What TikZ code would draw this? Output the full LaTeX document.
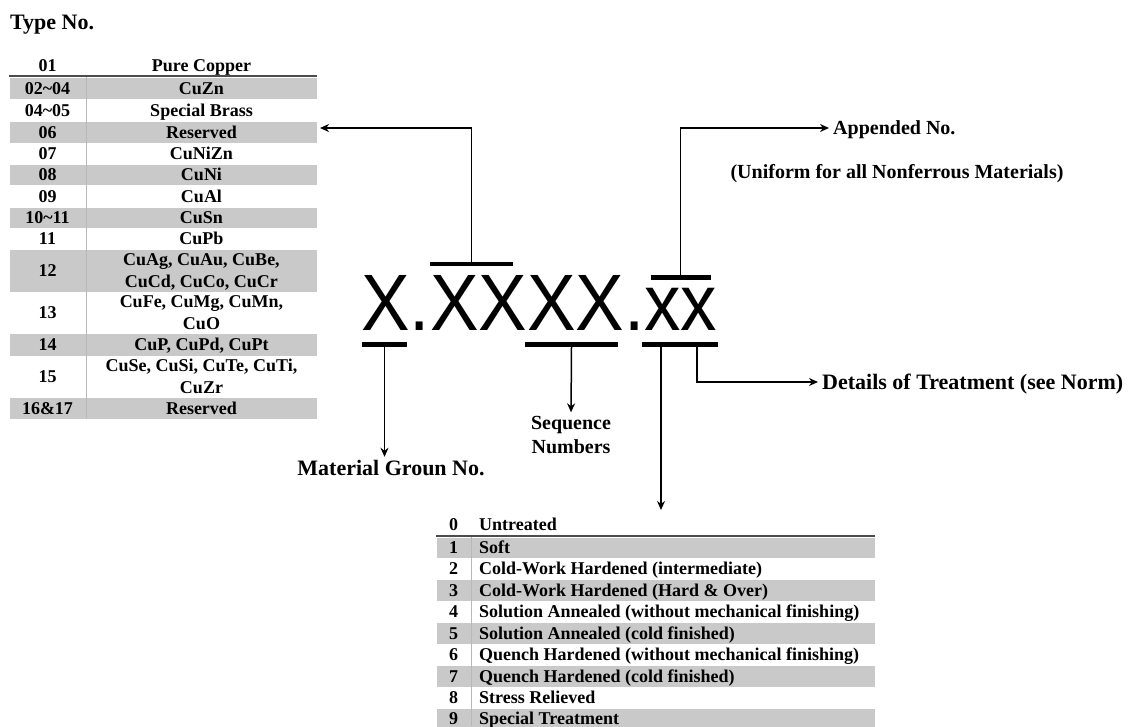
\documentclass[tikz,border=0pt]{standalone}
\usepackage{fontspec}
\setmainfont{Liberation Serif}
\newfontfamily\codefont{Liberation Sans}
\usetikzlibrary{arrows.meta}

\begin{document}
\begin{tikzpicture}[
  x=1pt, y=-1pt,
  >={Stealth[length=9pt,width=8pt]},
  every node/.style={align=center},
  title/.style={font=\bfseries\fontsize{22}{26}\selectfont, inner sep=0pt,
                text height=14pt, text depth=0pt},
  lbl/.style={font=\bfseries\fontsize{20}{24}\selectfont, inner sep=0pt,
              text height=13pt, text depth=0pt},
  cell/.style={font=\bfseries\fontsize{18}{21.5}\selectfont, inner sep=0pt,
               text height=12pt, text depth=0pt},
  cell2/.style={cell, text height=33.5pt},
  code/.style={font=\codefont\fontsize{80}{80}\selectfont, inner sep=0pt},
  shade/.style={fill=black!21, draw=white, line width=0.6pt},
  bar/.style={fill=black, inner sep=0pt, minimum height=4.5pt},
  arr/.style={->, line width=1.5pt},
  headrule/.style={line width=2pt, draw=black!70},
  divider/.style={line width=0.8pt, draw=black!28}
]
\useasboundingbox (0,0) rectangle (1137,726);

% type number table
\node[title, anchor=west] (typeno) at (10,22) {Type No.};
\fill[shade] (9,77) rectangle (317,99);
\fill[shade] (9,121) rectangle (317,143);
\fill[shade] (9,164) rectangle (317,185);
\fill[shade] (9,207) rectangle (317,228);
\fill[shade] (9,249) rectangle (317,292);
\fill[shade] (9,333) rectangle (317,356);
\fill[shade] (9,397) rectangle (317,419);
\draw[headrule] (9,76) -- (317,76);
\draw[divider] (86,77) -- (86,419);

\node[cell] (n01) at (47.5,65) {01};
\node[cell] (t01) at (201.5,65) {Pure Copper};
\node[cell] (n02) at (47.5,88) {02\textasciitilde 04};
\node[cell] (t02) at (201.5,88) {CuZn};
\node[cell] (n04) at (47.5,110) {04\textasciitilde 05};
\node[cell] (t04) at (201.5,110) {Special Brass};
\node[cell] (n06) at (47.5,132) {06};
\node[cell] (t06) at (201.5,132) {Reserved};
\node[cell] (n07) at (47.5,153.5) {07};
\node[cell] (t07) at (201.5,153.5) {CuNiZn};
\node[cell] (n08) at (47.5,174.5) {08};
\node[cell] (t08) at (201.5,174.5) {CuNi};
\node[cell] (n09) at (47.5,196) {09};
\node[cell] (t09) at (201.5,196) {CuAl};
\node[cell] (n10) at (47.5,217.5) {10\textasciitilde 11};
\node[cell] (t10) at (201.5,217.5) {CuSn};
\node[cell] (n11) at (47.5,238.5) {11};
\node[cell] (t11) at (201.5,238.5) {CuPb};
\node[cell] (n12) at (47.5,270.5) {12};
\node[cell2] (t12) at (201.5,270.5) {CuAg, CuAu, CuBe,\\CuCd, CuCo, CuCr};
\node[cell] (n13) at (47.5,312.5) {13};
\node[cell2] (t13) at (201.5,312.5) {CuFe, CuMg, CuMn,\\CuO};
\node[cell] (n14) at (47.5,344.5) {14};
\node[cell] (t14) at (201.5,344.5) {CuP, CuPd, CuPt};
\node[cell] (n15) at (47.5,376.5) {15};
\node[cell2] (t15) at (201.5,376.5) {CuSe, CuSi, CuTe, CuTi,\\CuZr};
\node[cell] (n16) at (47.5,408) {16\&17};
\node[cell] (t16) at (201.5,408) {Reserved};
\coordinate (typeptr) at (320,128);

% designation code
\node[code, anchor=base west] (desig) at (361,330) {\scalebox{0.91}[1]{X.XXXX.xx}};
\node[bar, minimum width=45pt] (barA) at (384.5,344.5) {};
\node[bar, minimum width=83pt] (barB) at (471.5,264) {};
\node[bar, minimum width=93pt] (barC) at (571.5,344.5) {};
\node[bar, minimum width=60pt] (barD) at (680.5,277.5) {};
\node[bar, minimum width=76pt] (barE) at (680,344.5) {};

% labels
\node[lbl, anchor=west] (appd) at (833,128) {Appended No.};
\node[lbl] (unif) at (897,172) {(Uniform for all Nonferrous Materials)};
\node[title, anchor=west] (dets) at (822,382) {Details of Treatment (see Norm)};
\node[title] (matl) at (391,468) {Material Groun No.};
\node[lbl, text height=37pt] (seq) at (571,435) {Sequence\\Numbers};
\coordinate (treatptr) at (661,510);

\draw[arr] (barB.north) |- (typeptr);
\draw[arr, shorten >=4pt] (barD.north) |- (appd.west);
\draw[arr, shorten >=4pt] (barA.south) -- (barA.south |- matl.north);
\draw[arr, shorten >=4pt] (barC.south) -- (seq.north);
\draw[arr, shorten >=4pt] ([xshift=17pt]barE.south) |- (dets.west);
\draw[arr] ([xshift=-19pt]barE.south) -- (treatptr);

% treatment table
\fill[shade] (436,537) rectangle (875,558);
\fill[shade] (436,579) rectangle (875,601);
\fill[shade] (436,622) rectangle (875,644);
\fill[shade] (436,665) rectangle (875,687);
\fill[shade] (436,708) rectangle (875,730);
\draw[headrule] (436,536) -- (875,536);
\draw[divider] (471,537) -- (471,726);

\node[cell] (r0) at (453.5,524) {0};
\node[cell, anchor=west] (s0) at (479,524) {Untreated};
\node[cell] (r1) at (453.5,547) {1};
\node[cell, anchor=west] (s1) at (479,547) {Soft};
\node[cell] (r2) at (453.5,568.5) {2};
\node[cell, anchor=west] (s2) at (479,568.5) {Cold-Work Hardened (intermediate)};
\node[cell] (r3) at (453.5,590) {3};
\node[cell, anchor=west] (s3) at (479,590) {Cold-Work Hardened (Hard \& Over)};
\node[cell] (r4) at (453.5,611.5) {4};
\node[cell, anchor=west] (s4) at (479,611.5) {Solution Annealed (without mechanical finishing)};
\node[cell] (r5) at (453.5,633) {5};
\node[cell, anchor=west] (s5) at (479,633) {Solution Annealed (cold finished)};
\node[cell] (r6) at (453.5,654.5) {6};
\node[cell, anchor=west] (s6) at (479,654.5) {Quench Hardened (without mechanical finishing)};
\node[cell] (r7) at (453.5,676) {7};
\node[cell, anchor=west] (s7) at (479,676) {Quench Hardened (cold finished)};
\node[cell] (r8) at (453.5,697.5) {8};
\node[cell, anchor=west] (s8) at (479,697.5) {Stress Relieved};
\node[cell] (r9) at (453.5,718) {9};
\node[cell, anchor=west] (s9) at (479,718) {Special Treatment};

\end{tikzpicture}
\end{document}
